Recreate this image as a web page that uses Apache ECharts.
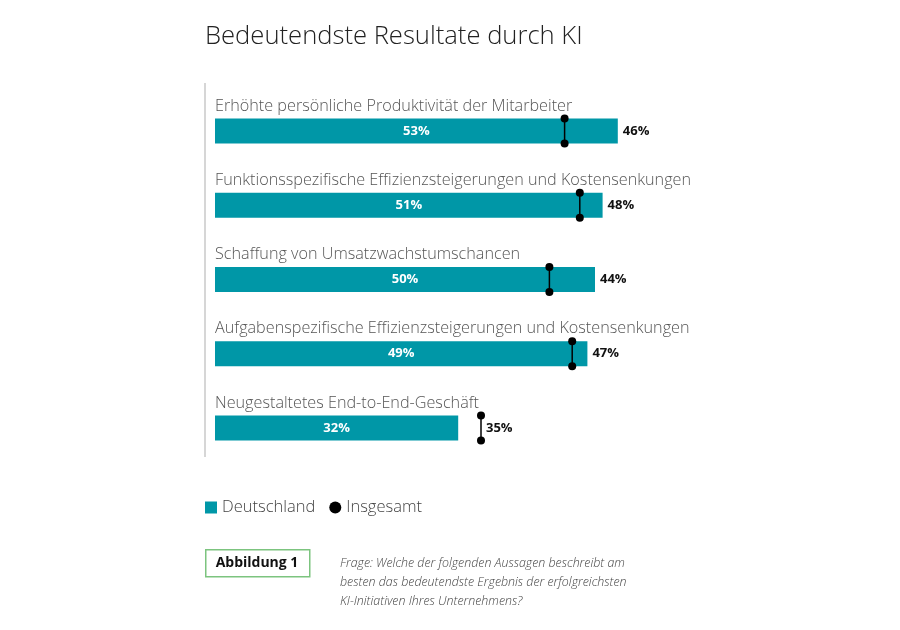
<!DOCTYPE html>
<html>
<head>
<meta charset="utf-8">
<script src="https://cdn.jsdelivr.net/npm/echarts@6/dist/echarts.min.js"></script>
<style>
  html, body { margin: 0; padding: 0; background: #fff; }
  #chart { width: 900px; height: 630px; }
</style>
</head>
<body>
<div id="chart"></div>
<script>
const categories = [
  'Erhöhte persönliche Produktivität der Mitarbeiter',
  'Funktionsspezifische Effizienzsteigerungen und Kostensenkungen',
  'Schaffung von Umsatzwachstumschancen',
  'Aufgabenspezifische Effizienzsteigerungen und Kostensenkungen',
  'Neugestaltetes End-to-End-Geschäft'
]
const deutschland = [53, 51, 50, 49, 32]
const insgesamt = [46, 48, 44, 47, 35]

const teal = '#0097a7'
const font = '"Open Sans", sans-serif'

const chart = echarts.init(document.getElementById('chart'))

// one item per row: [row index, insgesamt, deutschland]
const markerData = insgesamt.map((v, i) => [i, v, deutschland[i]])

function renderMarker (params, api) {
  const row = api.value(0)
  const total = api.value(1)
  const de = api.value(2)
  const barH = 25
  const pt = api.coord([total, row])
  const top = pt[1] - barH / 2
  const bottom = pt[1] + barH / 2
  const labelX = api.coord([Math.max(total, de), row])[0] + 5
  return {
    type: 'group',
    children: [
      {
        type: 'line',
        shape: {x1: pt[0], y1: top, x2: pt[0], y2: bottom},
        style: {stroke: '#000', lineWidth: 1.5},
      },
      {
        type: 'circle',
        shape: {cx: pt[0], cy: top, r: 4},
        style: {fill: '#000'},
      },
      {
        type: 'circle',
        shape: {cx: pt[0], cy: bottom, r: 4},
        style: {fill: '#000'},
      },
      {
        type: 'text',
        x: labelX,
        y: pt[1],
        style: {
          text: total + '%',
          fill: '#111',
          font: 'bold 13px ' + font,
          verticalAlign: 'middle',
          align: 'left',
        },
      },
    ],
  }
}

const option = {
  animation: false,
  textStyle: {fontFamily: font},
  title: {
    text: 'Bedeutendste Resultate durch KI',
    left: 200,
    top: 19,
    textStyle: {
      fontFamily: font,
      fontSize: 25.6,
      fontWeight: 300,
      color: '#222',
    },
  },
  legend: {
    left: 200,
    top: 494,
    itemGap: 14,
    itemWidth: 12,
    itemHeight: 12,
    textStyle: {fontSize: 16.5, color: '#444', fontWeight: 300},
    data: [
      {name: 'Deutschland', icon: 'rect', itemStyle: {color: teal}},
      {name: 'Insgesamt', icon: 'circle', itemStyle: {color: '#000'}},
    ],
  },
  grid: {
    left: 215,
    right: 229,
    top: 94,
    height: 371,
  },
  xAxis: {
    type: 'value',
    min: 0,
    max: 60,
    show: false,
  },
  yAxis: {
    type: 'category',
    data: categories,
    inverse: true,
    axisLine: {show: false},
    axisTick: {show: false},
    axisLabel: {
      inside: true,
      margin: 0,
      color: '#555',
      fontSize: 16.2,
      fontWeight: 300,
      fontFamily: font,
      verticalAlign: 'bottom',
      padding: [0, 0, 17, 0],
    },
  },
  series: [
    {
      name: 'Deutschland',
      type: 'bar',
      data: deutschland,
      barWidth: 25,
      itemStyle: {color: teal},
      label: {
        show: true,
        position: 'inside',
        formatter: '{c}%',
        color: '#fff',
        fontWeight: 'bold',
        fontSize: 13,
        fontFamily: font,
      },
      z: 2,
    },
    {
      name: 'Insgesamt',
      type: 'custom',
      data: markerData,
      encode: {x: 1, y: 0},
      renderItem: renderMarker,
      z: 3,
    },
  ],
  graphic: [
    {
      type: 'line',
      shape: {x1: 205, y1: 83, x2: 205, y2: 457},
      style: {stroke: '#d6d6d6', lineWidth: 2},
    },
    {
      type: 'rect',
      left: 205,
      top: 549,
      shape: {width: 104, height: 27},
      style: {fill: '#fff', stroke: '#7cc47f', lineWidth: 1.5},
    },
    {
      type: 'text',
      x: 257,
      y: 563,
      style: {
        text: 'Abbildung 1',
        fill: '#111',
        font: 'bold 14px ' + font,
        align: 'center',
        verticalAlign: 'middle',
      },
    },
    {
      type: 'text',
      left: 340,
      top: 554,
      style: {
        text: 'Frage: Welche der folgenden Aussagen beschreibt am\n' +
          'besten das bedeutendste Ergebnis der erfolgreichsten\n' +
          'KI-Initiativen Ihres Unternehmens?',
        fill: '#444',
        font: 'italic 300 12.4px ' + font,
        lineHeight: 19,
      },
    },
  ],
}

chart.setOption(option)
</script>
</body>
</html>
